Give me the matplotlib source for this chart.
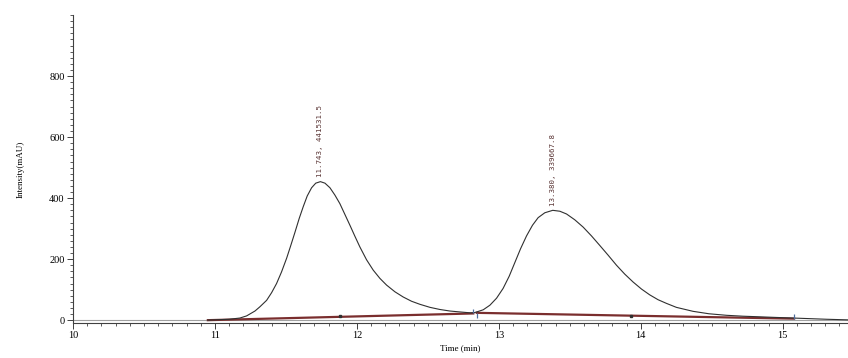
import matplotlib.pyplot as plt
from matplotlib.ticker import MultipleLocator
import numpy as np

# chromatogram trace (time in min, intensity in mAU)
time = [10.95, 11.00, 11.10, 11.176, 11.223, 11.282, 11.317, 11.364, 11.399, 11.434,
        11.469, 11.505, 11.533, 11.563, 11.594, 11.622, 11.650, 11.681, 11.710, 11.743,
        11.775, 11.810, 11.845, 11.880, 11.915, 11.951, 11.986, 12.021, 12.068, 12.115,
        12.162, 12.209, 12.268, 12.326, 12.385, 12.444, 12.515, 12.585, 12.655, 12.725,
        12.800, 12.831, 12.890, 12.937, 12.984, 13.030, 13.073, 13.113, 13.153, 13.195,
        13.237, 13.277, 13.324, 13.380, 13.430, 13.477, 13.535, 13.594, 13.653, 13.711,
        13.770, 13.829, 13.887, 13.946, 14.005, 14.063, 14.122, 14.181, 14.251, 14.368,
        14.480, 14.603, 14.720, 14.838, 14.950, 15.073, 15.190, 15.308, 15.460]
signal = [0, 1, 3, 7, 14, 30, 44, 65, 90, 120,
          158, 203, 243, 287, 334, 372, 407, 434, 449, 454,
          449, 434, 410, 382, 347, 311, 275, 240, 198, 164,
          137, 115, 93, 76, 62, 52, 42, 35, 30, 27,
          24, 25, 34, 49, 72, 104, 144, 189, 234, 276,
          311, 336, 352, 360, 357, 348, 329, 305, 276, 245,
          213, 180, 151, 125, 102, 83, 67, 55, 42, 29,
          21, 16, 13, 11, 9, 7, 5, 3, 1]

# integration baselines drawn under each peak
base1_t = [10.95, 12.82]
base1_y = [0, 22]
base2_t = [12.845, 15.08]
base2_y = [24, 5]

# peak labels: retention time, height, area
peak_rt = [11.743, 13.380]
peak_h = [454, 360]
peak_area = [441531.5, 339667.8]

# start/end markers of the integration windows
start_t = [12.82, 15.08]
start_y = [22, 5]
split_t = [12.845]
split_y = [24]
apex_dot_t = [11.88, 13.93]
apex_dot_y = [14, 14]

fig = plt.figure(figsize=(8.48, 3.58), dpi=100)
ax = fig.add_axes([0.0861, 0.098, 0.9139, 0.86])

ax.axhline(0, color="#a0a0a0", lw=0.8, zorder=1)
ax.plot(base1_t, base1_y, color="#7a2e2e", lw=1.6, zorder=2)
ax.plot(base2_t, base2_y, color="#7a2e2e", lw=1.6, zorder=2)
ax.plot(time, signal, color="#303030", lw=0.8, zorder=3, solid_joinstyle="round")

ax.vlines(start_t, start_y, np.array(start_y) + 16, color="#5070a0", lw=0.9, zorder=4)
ax.vlines(split_t, np.array(split_y) - 16, split_y, color="#5070a0", lw=0.9, zorder=4)
ax.plot(apex_dot_t, apex_dot_y, "s", color="#303030", ms=1.6, zorder=4)

for rt, h, area in zip(peak_rt, peak_h, peak_area):
    ax.annotate("{:.3f}, {:.1f}".format(rt, area), xy=(rt, h), xytext=(0, 3),
                textcoords="offset points", rotation=90, ha="center", va="bottom",
                fontsize=5.4, family="DejaVu Sans Mono", color="#5a3535")

ax.set_xlim(10, 15.46)
ax.set_ylim(-9, 1000)
ax.xaxis.set_major_locator(MultipleLocator(1))
ax.xaxis.set_minor_locator(MultipleLocator(0.1))
ax.yaxis.set_minor_locator(MultipleLocator(20))
ax.set_yticks([0, 200, 400, 600, 800])

for s in ["top", "right"]:
    ax.spines[s].set_visible(False)
for s in ["left", "bottom"]:
    ax.spines[s].set_linewidth(0.8)
    ax.spines[s].set_color("#404040")

ax.tick_params(which="major", length=4, width=0.7, labelsize=7.5, colors="#404040",
               labelcolor="black", pad=2)
ax.tick_params(which="minor", length=2, width=0.6, colors="#404040")
for lab in ax.get_xticklabels() + ax.get_yticklabels():
    lab.set_family("Liberation Serif")

ax.set_xlabel("Time (min)", fontsize=6.5, family="Liberation Serif", labelpad=3)
ax.set_ylabel("Intensity(mAU)", fontsize=6.5, family="Liberation Serif", labelpad=18)

fig.savefig("out.png", dpi=100)
